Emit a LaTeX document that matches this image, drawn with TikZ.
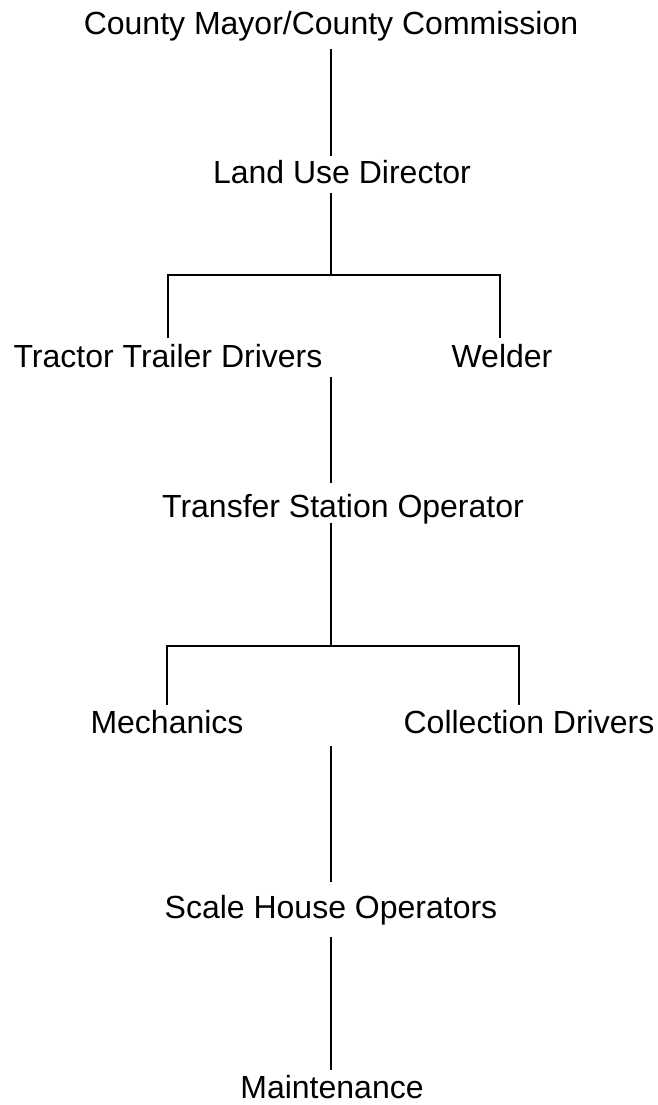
\documentclass[tikz,border=0pt]{standalone}
\usepackage{fontspec}
\setmainfont{Liberation Sans}
\begin{document}
\begin{tikzpicture}[x=1pt,y=-1pt,
  lbl/.style={anchor=base,inner sep=0pt,font=\fontsize{32}{38}\selectfont},
  conn/.style={draw=black,line width=1.6pt}]
\path[use as bounding box,fill=white] (0,0) rectangle (657,1105);
\coordinate (spine) at (331,0);
\node[lbl] (c)    at (331,35)   {County Mayor/County Commission};
\node[lbl] (lud)  at (342,183)  {Land Use Director};
\node[lbl] (ttd)  at (168,367)  {Tractor Trailer Drivers};
\node[lbl] (wel)  at (502,367)  {Welder};
\node[lbl] (tso)  at (343,517)  {Transfer Station Operator};
\node[lbl] (mech) at (167,733)  {Mechanics};
\node[lbl] (coll) at (529,733)  {Collection Drivers};
\node[lbl] (sho)  at (331,918)  {Scale House Operators};
\node[lbl] (mnt)  at (332,1098) {Maintenance};
\coordinate (j1) at (331,275);
\coordinate (j2) at (331,646);
\coordinate (d1) at (500,0);
\coordinate (d2) at (519,0);
\draw[conn] ([yshift=-14pt]c.base) -- ([yshift=27pt]lud.base -| spine);
\draw[conn] ([yshift=-10pt]lud.base -| spine) -- (j1);
\draw[conn] ([yshift=29pt]ttd.base) |- (j1) -| ([yshift=29pt]wel.base -| d1);
\draw[conn] ([yshift=-10pt]ttd.base -| spine) -- ([yshift=34pt]tso.base -| spine);
\draw[conn] ([yshift=-6pt]tso.base -| spine) -- (j2);
\draw[conn] ([yshift=28pt]mech.base) |- (j2) -| ([yshift=28pt]coll.base -| d2);
\draw[conn] ([yshift=-13pt]mech.base -| spine) -- ([yshift=36pt]sho.base -| spine);
\draw[conn] ([yshift=-19pt]sho.base -| spine) -- ([yshift=28pt]mnt.base -| spine);
\end{tikzpicture}
\end{document}
